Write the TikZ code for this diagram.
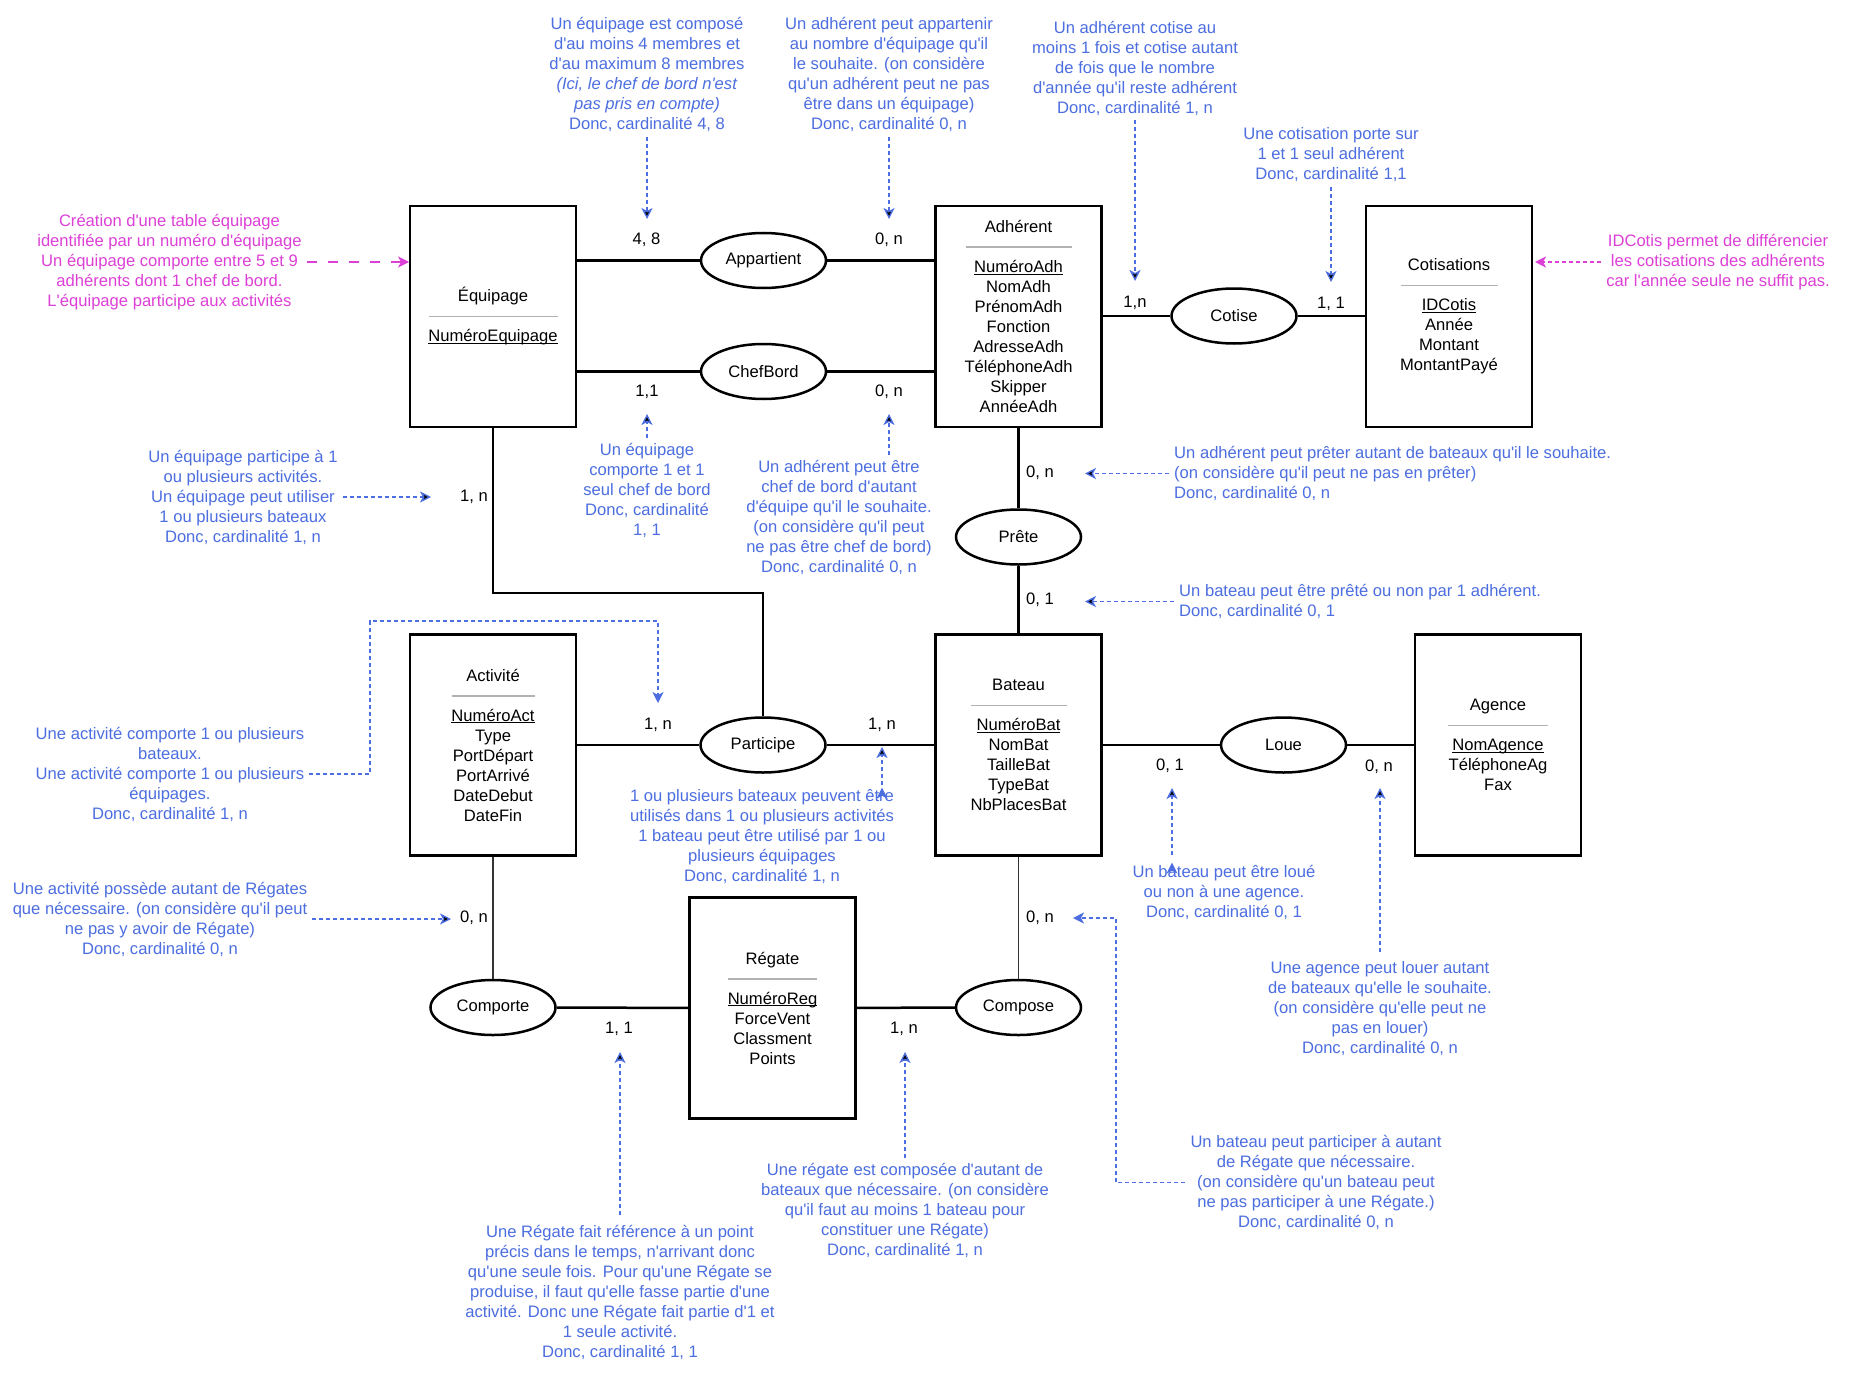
\documentclass[tikz,border=0pt]{standalone}
\usepackage{fontspec}
\newfontfamily\schemafont{Liberation Sans}
\usetikzlibrary{shapes.geometric,arrows.meta}

\definecolor{bleunote}{RGB}{76,110,224}
\definecolor{rosenote}{RGB}{221,64,214}
\definecolor{gristrait}{RGB}{178,178,178}

\newcommand{\separe}[1]{\raisebox{4.5pt}{\textcolor{gristrait}{\rule{#1pt}{1.6pt}}}}
\newcommand{\cle}[1]{\setbox0\hbox{#1}\rlap{\rule[-2.2pt]{\wd0}{1pt}}\box0}

\begin{document}
\begin{tikzpicture}[x=1pt,y=-1pt,>={Stealth[length=11pt,width=11pt,inset=3pt]},
                    font=\schemafont\fontsize{16.6}{20}\selectfont,
                    entite/.style={draw,line width=2.7pt,minimum width=166pt,
                                   minimum height=221pt,align=center,inner sep=0pt},
                    relation/.style={ellipse,draw,line width=2.5pt,fill=white,
                                     minimum width=125pt,minimum height=55pt,inner sep=0pt},
                    lien/.style={line width=2.5pt},
                    lienfin/.style={line width=1.6pt,draw=black!80},
                    card/.style={inner sep=2pt},
                    note/.style={text=bleunote,align=center,inner sep=2pt},
                    rose/.style={text=rosenote,align=center,inner sep=2pt},
                    rappel/.style={->,draw=bleunote,line width=1.3pt,
                                   dash pattern=on 4pt off 3pt,shorten <=3pt},
                    rappelrose/.style={->,draw=rosenote,line width=1.3pt,
                                       dash pattern=on 4pt off 3pt,shorten <=3pt}]

  \path[use as bounding box,fill=white] (0,0) rectangle (1854,1388);

  \node[entite]   (equipage)    at (493,316.5)    {Équipage\\ \separe{129}\\ \cle{NuméroEquipage}};
  \node[entite]   (adherent)    at (1018.5,316.5) {Adhérent\\ \separe{106}\\ \cle{NuméroAdh}\\ NomAdh\\ PrénomAdh\\ Fonction\\ AdresseAdh\\ TéléphoneAdh\\ Skipper\\ AnnéeAdh};
  \node[entite]   (cotisations) at (1449,316.5)   {Cotisations\\ \separe{97}\\ \cle{IDCotis}\\ Année\\ Montant\\ MontantPayé};
  \node[entite]   (activite)    at (493,745)      {Activité\\ \separe{83}\\ \cle{NuméroAct}\\ Type\\ PortDépart\\ PortArrivé\\ DateDebut\\ DateFin};
  \node[entite]   (bateau)      at (1018.5,745)   {Bateau\\ \separe{96}\\ \cle{NuméroBat}\\ NomBat\\ TailleBat\\ TypeBat\\ NbPlacesBat};
  \node[entite]   (agence)      at (1498,745)     {Agence\\ \separe{100}\\ \cle{NomAgence}\\ TéléphoneAg\\ Fax};
  \node[entite]   (regate)      at (772.5,1008)   {Régate\\ \separe{89}\\ \cle{NuméroReg}\\ ForceVent\\ Classment\\ Points};

  \node[relation] (appartient)  at (763.5,260.5)  {Appartient};
  \node[relation] (chefbord)    at (763.5,371.5)  {ChefBord};
  \node[relation] (cotise)      at (1234,316)     {Cotise};
  \node[relation] (prete)       at (1018.5,537)   {Prête};
  \node[relation] (participe)   at (763,745)      {Participe};
  \node[relation] (loue)        at (1283.5,745)   {Loue};
  \node[relation] (comporte)    at (493,1007.5)   {Comporte};
  \node[relation] (compose)     at (1018.5,1007.5) {Compose};

  \coordinate (coude) at (763,593);

  \draw[lien] (equipage.east |- appartient) -- (appartient) -- (adherent.west |- appartient);
  \draw[lien] (equipage.east |- chefbord) -- (chefbord) -- (adherent.west |- chefbord);
  \draw[lien] (adherent.east |- cotise) -- (cotise) -- (cotisations.west |- cotise);
  \draw[lien] (adherent) -- (prete) -- (bateau);
  \draw[lien] (equipage) |- (coude) -- (participe);
  \draw[lien] (activite) -- (participe) -- (bateau);
  \draw[lien] (bateau) -- (loue) -- (agence);
  \draw[lien] (comporte) -- (regate) -- (compose);
  \path[lienfin] (activite) edge (comporte)
                 (bateau)   edge (compose);

  \node[card] (c48)        at (646.5,240) {4, 8};
  \node[card] (c0napp)     at (889,240)   {0, n};
  \node[card] (c11chef)    at (647,392)   {1,1};
  \node[card] (c0nchef)    at (889,392)   {0, n};
  \node[card] (c1ncot)     at (1135,303)  {1,n};
  \node[card] (c11cot)     at (1331,304)  {1, 1};
  \node[card] (c0npret)    at (1040,473)  {0, n};
  \node[card] (c01pret)    at (1040,600)  {0, 1};
  \node[card] (c1nequ)     at (474,497)   {1, n};
  \node[card] (c1nact)     at (658,725)   {1, n};
  \node[card] (c1nbat)     at (882,725)   {1, n};
  \node[card] (c01loue)    at (1170,766)  {0, 1};
  \node[card] (c0nloue)    at (1379,767)  {0, n};
  \node[card] (c0ncomp)    at (474,918)   {0, n};
  \node[card] (c0ncompose) at (1040,918)  {0, n};
  \node[card] (c11reg)     at (619,1029)  {1, 1};
  \node[card] (c1nreg)     at (904,1029)  {1, n};

  \node[note] (n1) at (647,74.5) {Un équipage est composé\\ d'au moins 4 membres et\\ d'au maximum 8 membres\\ \textit{(Ici, le chef de bord n'est}\\ \textit{pas pris en compte)}\\ Donc, cardinalité 4, 8};
  \node[note] (n2) at (889,74.5) {Un adhérent peut appartenir\\ au nombre d'équipage qu'il\\ le souhaite. (on considère\\ qu'un adhérent peut ne pas\\ être dans un équipage)\\ Donc, cardinalité 0, n};
  \node[note] (n3) at (1135,68) {Un adhérent cotise au\\ moins 1 fois et cotise autant\\ de fois que le nombre\\ d'année qu'il reste adhérent\\ Donc, cardinalité 1, n};
  \node[note] (n4) at (1331,155) {Une cotisation porte sur\\ 1 et 1 seul adhérent\\ Donc, cardinalité 1,1};
  \node[rose] (n5) at (1718,262) {IDCotis permet de différencier\\ les cotisations des adhérents\\ car l'année seule ne suffit pas.};
  \node[rose] (n6) at (169.5,262) {Création d'une table équipage\\ identifiée par un numéro d'équipage\\ Un équipage comporte entre 5 et 9\\ adhérents dont 1 chef de bord.\\ L'équipage participe aux activités};
  \node[note] (n7) at (243,497) {Un équipage participe à 1\\ ou plusieurs activités.\\ Un équipage peut utiliser\\ 1 ou plusieurs bateaux\\ Donc, cardinalité 1, n};
  \node[note] (n8) at (647,490) {Un équipage\\ comporte 1 et 1\\ seul chef de bord\\ Donc, cardinalité\\ 1, 1};
  \node[note] (n9) at (839,517.5) {Un adhérent peut être\\ chef de bord d'autant\\ d'équipe qu'il le souhaite.\\ (on considère qu'il peut\\ ne pas être chef de bord)\\ Donc, cardinalité 0, n};
  \node[note,align=left,anchor=west] (n10) at (1172,473.5) {Un adhérent peut prêter autant de bateaux qu'il le souhaite.\\ (on considère qu'il peut ne pas en prêter)\\ Donc, cardinalité 0, n};
  \node[note,align=left,anchor=west] (n11) at (1177,601.5) {Un bateau peut être prêté ou non par 1 adhérent.\\ Donc, cardinalité 0, 1};
  \node[note] (n12) at (170,774) {Une activité comporte 1 ou plusieurs\\ bateaux.\\ Une activité comporte 1 ou plusieurs\\ équipages.\\ Donc, cardinalité 1, n};
  \node[note] (n13) at (160,919) {Une activité possède autant de Régates\\ que nécessaire. (on considère qu'il peut\\ ne pas y avoir de Régate)\\ Donc, cardinalité 0, n};
  \node[note] (n14) at (762,837) {1 ou plusieurs bateaux peuvent être\\ utilisés dans 1 ou plusieurs activités\\ 1 bateau peut être utilisé par 1 ou\\ plusieurs équipages\\ Donc, cardinalité 1, n};
  \node[note] (n15) at (1224,892) {Un bateau peut être loué\\ ou non à une agence.\\ Donc, cardinalité 0, 1};
  \node[note] (n16) at (1380,1009) {Une agence peut louer autant\\ de bateaux qu'elle le souhaite.\\ (on considère qu'elle peut ne\\ pas en louer)\\ Donc, cardinalité 0, n};
  \node[note] (n17) at (1316,1182.5) {Un bateau peut participer à autant\\ de Régate que nécessaire.\\ (on considère qu'un bateau peut\\ ne pas participer à une Régate.)\\ Donc, cardinalité 0, n};
  \node[note] (n18) at (905,1210) {Une régate est composée d'autant de\\ bateaux que nécessaire. (on considère\\ qu'il faut au moins 1 bateau pour\\ constituer une Régate)\\ Donc, cardinalité 1, n};
  \node[note] (n19) at (620,1292) {Une Régate fait référence à un point\\ précis dans le temps, n'arrivant donc\\ qu'une seule fois. Pour qu'une Régate se\\ produise, il faut qu'elle fasse partie d'une\\ activité. Donc une Régate fait partie d'1 et\\ 1 seule activité.\\ Donc, cardinalité 1, 1};

  \coordinate (t48)      at (647,219);
  \coordinate (t0napp)   at (889,219);
  \coordinate (t1ncot)   at (1135,281);
  \coordinate (t11cot)   at (1331,282);
  \coordinate (tidcotis) at (1535,262);
  \coordinate (tequip)   at (409,262);
  \coordinate (t1nequ)   at (431,497);
  \coordinate (t11chef)  at (647,414);
  \coordinate (t0nchef)  at (889,414);
  \coordinate (t0npret)  at (1085,473.5);
  \coordinate (t01pret)  at (1085,601.5);
  \coordinate (k1)       at (370,621);
  \coordinate (tact)     at (658,703);
  \coordinate (t0ncomp)  at (451,919);
  \coordinate (t1nbat)   at (882,747);
  \coordinate (t01loue)  at (1172,788);
  \coordinate (t0nloue)  at (1380,788);
  \coordinate (k2)       at (1116,918);
  \coordinate (tregbat)  at (1073,918);
  \coordinate (t1nreg)   at (905,1052);
  \coordinate (t11reg)   at (620,1052);

  \path[rappel] (n1) edge (t48)
                (n2) edge (t0napp)
                (n3) edge (t1ncot)
                (n4) edge (t11cot)
                (n7) edge (t1nequ)
                (n8) edge (t11chef)
                (n9.north -| t0nchef) edge (t0nchef)
                (n10) edge (t0npret)
                (n11) edge (t01pret)
                (n13) edge (t0ncomp)
                (n14.north -| t1nbat) edge (t1nbat)
                (n18) edge (t1nreg);
  \path[rappel,shorten <=8pt] (n15.north -| t01loue) edge (t01loue)
                              (n16) edge (t0nloue)
                              (n19) edge (t11reg);
  \draw[rappel] (n12) -| (k1) -| (tact);
  \draw[rappel] (n17) -| (k2) -- (tregbat);
  \draw[rappelrose] (n5) -- (tidcotis);
  \draw[rappelrose,dash pattern=on 10pt off 11pt] (n6) -- (tequip);
\end{tikzpicture}
\end{document}
